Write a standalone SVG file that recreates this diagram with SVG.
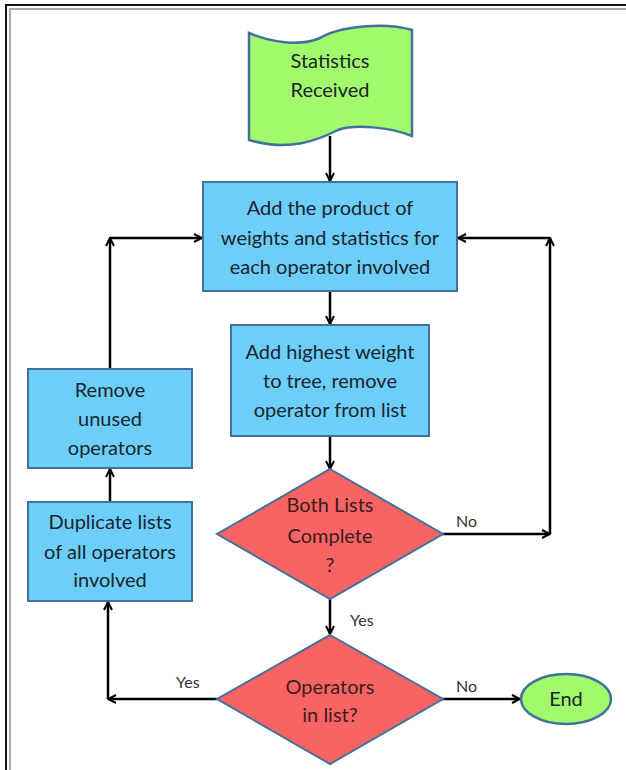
<svg xmlns="http://www.w3.org/2000/svg" width="626" height="770" viewBox="0 0 626 770">
<style>
.box{fill:#6DCFF8;stroke:#41719C;stroke-width:2}
.dec{fill:#F86464;stroke:#41719C;stroke-width:2}
.grn{fill:#A0FA6C;stroke:#41719C;stroke-width:2.5}
.t{font-family:Lato,"Open Sans","Liberation Sans",sans-serif;font-size:20px;fill:#1c2430;text-anchor:middle}
.td{font-family:Lato,"Open Sans","Liberation Sans",sans-serif;font-size:20px;fill:#3a1c1c;text-anchor:middle}
.lb{font-family:Lato,"Open Sans","Liberation Sans",sans-serif;font-size:16px;fill:#333;text-anchor:start}
.c{fill:none;stroke:#000;stroke-width:2.5}
</style>
<defs>
<marker id="ah" viewBox="0 0 10 10" refX="9" refY="5" markerWidth="10" markerHeight="10" markerUnits="userSpaceOnUse" orient="auto">
<path d="M1,1 L9,5 L1,9" fill="none" stroke="#000" stroke-width="2"/>
</marker>
</defs>
<rect width="626" height="770" fill="#fff"/>
<g id="frame">
<path d="M6,770 V5 H626" fill="none" stroke="#111" stroke-width="2"/>
<path d="M10,770 V9 H626" fill="none" stroke="#aaa" stroke-width="2"/>
</g>
<g id="connectors">
<path class="c" d="M330,136 V181" marker-end="url(#ah)"/>
<path class="c" d="M330,291 V324" marker-end="url(#ah)"/>
<path class="c" d="M330,436 V469" marker-end="url(#ah)"/>
<path class="c" d="M330,599 V634" marker-end="url(#ah)"/>
<path class="c" d="M442,534 H550" marker-end="url(#ah)"/>
<path class="c" d="M550,534 V238" marker-end="url(#ah)"/>
<path class="c" d="M550,238 H458" marker-end="url(#ah)"/>
<path class="c" d="M442,699 H520" marker-end="url(#ah)"/>
<path class="c" d="M217,699 H108" marker-end="url(#ah)"/>
<path class="c" d="M108,699 V602" marker-end="url(#ah)"/>
<path class="c" d="M110,502 V469" marker-end="url(#ah)"/>
<path class="c" d="M110,369 V238" marker-end="url(#ah)"/>
<path class="c" d="M110,238 H202" marker-end="url(#ah)"/>
<text class="lb" x="456" y="527">No</text>
<text class="lb" x="350" y="626">Yes</text>
<text class="lb" x="456" y="692">No</text>
<text class="lb" x="176" y="688">Yes</text>
</g>
<g id="start">
<path class="grn" d="M249,33 C270,42 300,47 320,38 C340,26 385,22 412,30 L412,136 C390,127 355,124 338,130 C318,140 290,152 249,140 Z"/>
<text class="t" x="330" y="68">Statistics</text>
<text class="t" x="330" y="97">Received</text>
</g>
<g id="add-product">
<rect class="box" x="203" y="182" width="254" height="109"/>
<text class="t" x="330" y="215">Add the product of</text>
<text class="t" x="330" y="245">weights and statistics for</text>
<text class="t" x="330" y="274">each operator involved</text>
</g>
<g id="add-highest">
<rect class="box" x="231" y="325" width="198" height="111"/>
<text class="t" x="330" y="359">Add highest weight</text>
<text class="t" x="330" y="388">to tree, remove</text>
<text class="t" x="330" y="417">operator from list</text>
</g>
<g id="both-lists">
<polygon class="dec" points="330,469 443,534 330,599 217,534"/>
<text class="td" x="330" y="512">Both Lists</text>
<text class="td" x="330" y="543">Complete</text>
<text class="td" x="330" y="572">?</text>
</g>
<g id="operators-in-list">
<polygon class="dec" points="330,635 443,699 330,764 217,699"/>
<text class="td" x="330" y="694">Operators</text>
<text class="td" x="330" y="722">in list?</text>
</g>
<g id="end">
<ellipse class="grn" cx="566" cy="699" rx="45" ry="25"/>
<text class="t" x="566" y="706">End</text>
</g>
<g id="remove-unused">
<rect class="box" x="28" y="369" width="164" height="99"/>
<text class="t" x="110" y="397">Remove</text>
<text class="t" x="110" y="426">unused</text>
<text class="t" x="110" y="455">operators</text>
</g>
<g id="duplicate">
<rect class="box" x="28" y="502" width="164" height="99"/>
<text class="t" x="110" y="529">Duplicate lists</text>
<text class="t" x="110" y="559">of all operators</text>
<text class="t" x="110" y="587">involved</text>
</g>
</svg>
